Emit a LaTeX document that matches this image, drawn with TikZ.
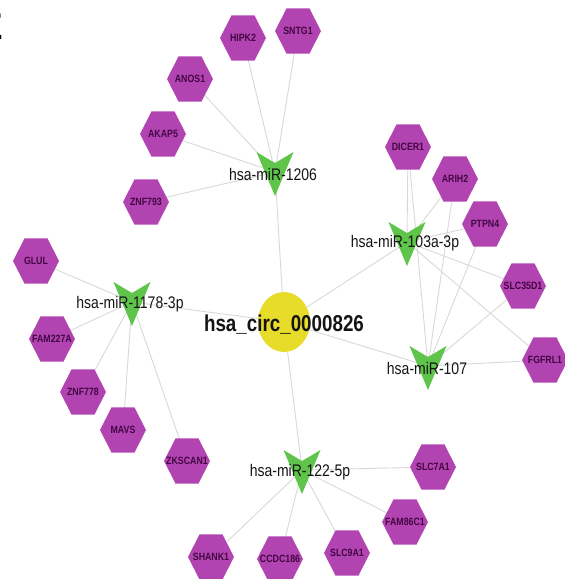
\documentclass[tikz,border=0pt]{standalone}
\usepackage{fontspec}
\setmainfont{Liberation Sans}
\usetikzlibrary{shapes.geometric,backgrounds}
\definecolor{hexcol}{RGB}{178,68,178}
\definecolor{hextxt}{RGB}{66,6,66}
\definecolor{vcol}{RGB}{94,196,74}
\definecolor{circcol}{RGB}{232,220,42}
\definecolor{edgecol}{RGB}{216,216,216}
\tikzset{
 hexshape/.style={regular polygon, regular polygon sides=6, minimum size=46pt, inner sep=0pt, outer sep=0pt, fill=hexcol, yscale=1.13, transform shape},
 hextext/.style={font=\bfseries\fontsize{8.8}{9}\selectfont, text=hextxt, inner sep=0pt, yscale=1.2, transform shape},
 mirlbl/.style={font=\fontsize{14}{15}\selectfont, text=black!92, inner sep=0pt, yscale=1.2, transform shape},
 vshape/.style={fill=vcol},
 edge/.style={draw=edgecol, line width=0.9pt},
}
\newcommand\hexgene[3]{\node[hexshape] (#1) at (#2) {}; \node[hextext] (#1t) at (#1.center) {#3};}
\newcommand\mirna[4]{\coordinate (#1) at (#2); \fill[vshape] (#1) ++(-18.5,-20) -- ++(18.5,11) -- ++(18.5,-11) -- ++(-18.5,44) -- cycle; \node[mirlbl] (#1t) at (#3) {#4};}
\begin{document}
\begin{tikzpicture}[x=1pt,y=-1pt]
\useasboundingbox (0,0) rectangle (565,579);
% panel letter (cut off)
\node[anchor=east, inner sep=0pt, font=\bfseries\fontsize{37}{37}\selectfont] (panel) at (3.6,27) {E};
% centre
\node[ellipse, fill=circcol, minimum width=52pt, minimum height=60pt, inner sep=0pt] (circ) at (284,322) {};
% genes
\hexgene{hipk}{243,38}{HIPK2}
\hexgene{sntg}{298,31}{SNTG1}
\hexgene{anos}{190,79}{ANOS1}
\hexgene{akap}{163,134}{AKAP5}
\hexgene{znfa}{146,202}{ZNF793}
\hexgene{dicer}{408,147}{DICER1}
\hexgene{arih}{455,179}{ARIH2}
\hexgene{ptpn}{485,224}{PTPN4}
\hexgene{slcd}{523,286}{SLC35D1}
\hexgene{fgfr}{545,360}{FGFRL1}
\hexgene{glul}{36,261}{GLUL}
\hexgene{fama}{52,339}{FAM227A}
\hexgene{znfb}{83,392}{ZNF778}
\hexgene{mavs}{123,430}{MAVS}
\hexgene{zksc}{187,461}{ZKSCAN1}
\hexgene{slcs}{433,467}{SLC7A1}
\hexgene{famc}{405,522}{FAM86C1}
\hexgene{slcn}{347,553}{SLC9A1}
\hexgene{ccdc}{280,559}{CCDC186}
\hexgene{shank}{211,557}{SHANK1}
% miRNAs
\mirna{ma}{275,172}{273,174}{hsa-miR-1206}
\mirna{mb}{407,242}{405,243}{hsa-miR-103a-3p}
\mirna{mc}{132,302}{130,304}{hsa-miR-1178-3p}
\mirna{md}{428,366}{427,368}{hsa-miR-107}
\mirna{me}{302,470}{300,472}{hsa-miR-122-5p}
\node[font=\bfseries\fontsize{18.8}{19}\selectfont, yscale=1.22, transform shape, inner sep=0pt, text=black!92] (circt) at (284,325) {hsa\_circ\_0000826};
\begin{scope}[on background layer]
\foreach \m in {ma,mb,mc,md,me} \draw[edge] (circ.center) -- (\m);
\foreach \g in {hipk,sntg,anos,akap,znfa} \draw[edge] (ma) -- (\g.center);
\foreach \g in {dicer,arih,ptpn,slcd,fgfr} {\draw[edge] (mb) -- (\g.center); \draw[edge] (md) -- (\g.center);}
\foreach \g in {glul,fama,znfb,mavs,zksc} \draw[edge] (mc) -- (\g.center);
\foreach \g in {slcs,famc,slcn,ccdc,shank} \draw[edge] (me) -- (\g.center);
\end{scope}
\end{tikzpicture}
\end{document}
